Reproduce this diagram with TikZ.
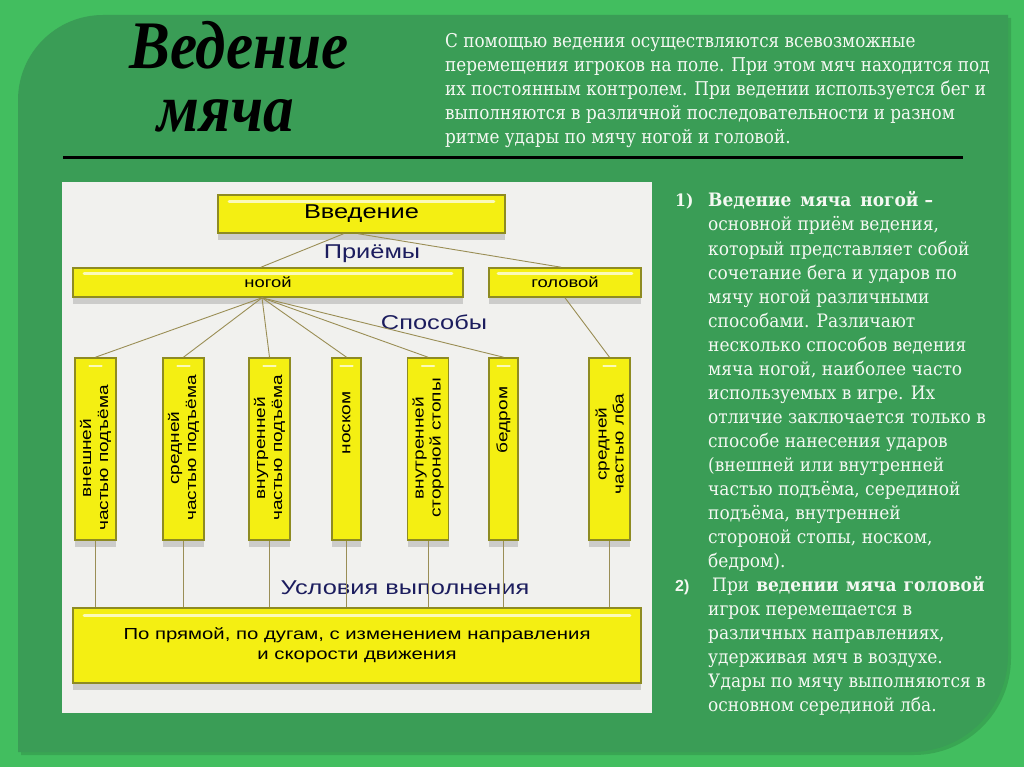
\documentclass[tikz,border=0pt]{standalone}
\usepackage{fontspec}
\setmainfont{Liberation Serif}
\newfontfamily\sansf[FakeStretch=1.27]{Liberation Sans}
\newfontfamily\nsans{Liberation Sans}
\newfontfamily\titlef[FakeStretch=0.9]{Liberation Serif}
\newfontfamily\topf[FakeStretch=0.885]{DejaVu Serif}
\newfontfamily\rfont[FakeStretch=0.92]{DejaVu Serif}
\usetikzlibrary{shadows,calc}
\definecolor{outerg}{HTML}{42BE5F}
\definecolor{panelg}{HTML}{3A9D56}
\definecolor{diagbg}{HTML}{F1F1EE}
\definecolor{boxfill}{HTML}{F4EF12}
\definecolor{boxedge}{HTML}{8E8B22}
\definecolor{linec}{HTML}{9A8E55}
\definecolor{navy}{HTML}{1C1D5E}
\definecolor{ptext}{HTML}{F4F8F2}
\begin{document}
\begin{tikzpicture}[x=1pt,y=-1pt,
  ybox/.style={draw=boxedge, line width=1.6pt, fill=boxfill, inner sep=0pt, font=\sansf, text=black,
    drop shadow={shadow xshift=0pt, shadow yshift=-7pt, opacity=0.22, fill=black!70}},
  conn/.style={draw=linec, line width=0.9pt},
  lbl/.style={font=\sansf\fontsize{20}{22}\selectfont, text=navy},
  vlab/.style={font=\sansf\fontsize{15}{17}\selectfont, align=center, rotate=90},
  hl/.style={draw=white, line width=3pt, line cap=round, opacity=0.7},
  ptxt/.style={anchor=base west, inner sep=0pt, text=ptext, font=\rfont\fontsize{18.5}{24}\selectfont},
  ttxt/.style={anchor=base west, inner sep=0pt, text=ptext, font=\topf\fontsize{19}{24}\selectfont},
  title/.style={font=\titlef\bfseries\itshape\fontsize{68}{68}\selectfont, anchor=base, inner sep=0pt, text=black},
]
\useasboundingbox (0,0) rectangle (1024,767);
% backgrounds
\fill[outerg] (0,0) rectangle (1024,767);
\fill[black, opacity=0.12] (21,103) arc[start angle=180, end angle=270, x radius=85pt, y radius=-85pt] -- (1011,18) -- (1011,658)
  arc[start angle=0, end angle=90, x radius=97pt, y radius=-97pt] -- (21,755) -- cycle;
\fill[panelg] (18,100) arc[start angle=180, end angle=270, x radius=85pt, y radius=-85pt] -- (1008,15) -- (1008,655)
  arc[start angle=0, end angle=90, x radius=97pt, y radius=-97pt] -- (18,752) -- cycle;
% title
\node[title] (t1) at (239,69) {Ведение};
\node[title] (t2) at (226,132) {мяча};
% top paragraph
\foreach \t [count=\i] in {{С помощью ведения осуществляются всевозможные},
  {перемещения игроков на поле. При этом мяч находится под},
  {их постоянным контролем. При ведении используется бег и},
  {выполняются в различной последовательности и разном},
  {ритме удары по мячу ногой и головой.}}
  \node[ttxt] (tp\i) at (445,{48+24*(\i-1)}) {\t};
% rule
\draw[black, line width=3pt] (63,158) -- (963,158);
% diagram background
\fill[diagbg] (62,182) rectangle (652,713);
% boxes
\node[ybox, minimum width=287pt, minimum height=38pt, font=\sansf\fontsize{20}{22}\selectfont] (vv) at (361.5,214) {Введение};
\node[ybox, minimum width=390pt, minimum height=29pt, font=\sansf\fontsize{14.5}{16}\selectfont] (nog) at (268,282.5) {ногой};
\node[ybox, minimum width=152pt, minimum height=29pt, font=\sansf\fontsize{14.5}{16}\selectfont] (gol) at (565,282.5) {головой};
\node[ybox, minimum width=41pt, minimum height=182pt] (v1) at (95.5,449) {};
\node[ybox, minimum width=41pt, minimum height=182pt] (v2) at (183.5,449) {};
\node[ybox, minimum width=41pt, minimum height=182pt] (v3) at (269.5,449) {};
\node[ybox, minimum width=29pt, minimum height=182pt] (v4) at (346.5,449) {};
\node[ybox, minimum width=41pt, minimum height=182pt] (v5) at (428,449) {};
\node[ybox, minimum width=29pt, minimum height=182pt] (v6) at (503.5,449) {};
\node[ybox, minimum width=41pt, minimum height=182pt] (v7) at (609.5,449) {};
\node[vlab] (l1) at (95.5,458) {внешней\\частью подъёма};
\node[vlab] (l2) at (183.5,448) {средней\\частью подъёма};
\node[vlab] (l3) at (269.5,448) {внутренней\\частью подъёма};
\node[vlab] (l4) at (346.5,423) {носком};
\node[vlab] (l5) at (428,448) {внутренней\\стороной стопы};
\node[vlab] (l6) at (503.5,420) {бедром};
\node[vlab] (l7) at (609.5,444) {средней\\частью лба};
\node[ybox, minimum width=568pt, minimum height=75pt, align=center, font=\sansf\fontsize{16}{20}\selectfont] (big) at (357,645.5) {По прямой, по дугам, с изменением направления\\и скорости движения};
% highlights
\draw[hl] ($(vv.north west)+(12,7)$) -- ($(vv.north east)+(-12,7)$);
\draw[hl] ($(nog.north west)+(12,6)$) -- ($(nog.north east)+(-12,6)$);
\draw[hl] ($(gol.north west)+(10,6)$) -- ($(gol.north east)+(-10,6)$);
\draw[hl] ($(big.north west)+(12,8)$) -- ($(big.north east)+(-12,8)$);
\foreach \n in {v1,v2,v3,v4,v5,v6,v7}
  \draw[hl, line width=2.5pt] ($(\n.north)+(-6,9)$) -- ($(\n.north)+(6,9)$);
% labels
\node[lbl] (lp) at (372,254) {Приёмы};
\node[lbl] (ls) at (434,322) {Способы};
\node[lbl] (lu) at (405,588) {Условия выполнения};
% connectors
\draw[conn] ($(vv.south)+(-18,0)$) -- ($(nog.north)+(-7,0)$);
\draw[conn] ($(vv.south)+(-3,0)$) -- ($(gol.north)+(-4,0)$);
\coordinate (nogc) at ($(nog.south)+(-6,0)$);
\foreach \n in {v1,v2,v3,v4,v5,v6}
  \draw[conn] (nogc) -- (\n.north);
\draw[conn] (gol.south) -- (v7.north);
\foreach \n in {v1,v2,v3,v4,v5,v6,v7}
  \draw[conn] (\n.south) -- (\n.south |- big.north);
% right text
\node[anchor=base west, inner sep=0pt, text=ptext, font=\rfont\bfseries\fontsize{17}{20}\selectfont] (n1) at (675,207) {1)};
\node[anchor=base west, inner sep=0pt, text=ptext, font=\nsans\bfseries\fontsize{16}{20}\selectfont] (n2) at (675,591) {2)};
\foreach \t [count=\i] in {{\bfseries Ведение\hspace{9pt}мяча\hspace{9pt}ногой –},
  {основной приём ведения,},
  {который представляет собой},
  {сочетание бега и ударов по},
  {мячу ногой различными},
  {способами. Различают},
  {несколько способов ведения},
  {мяча ногой, наиболее часто},
  {используемых в игре. Их},
  {отличие заключается только в},
  {способе нанесения ударов},
  {(внешней или внутренней},
  {частью подъёма, серединой},
  {подъёма, внутренней},
  {стороной стопы, носком,},
  {бедром).},
  {\hspace{4pt}При\hspace{7pt}{\bfseries ведении\hspace{7pt}мяча\hspace{7pt}головой}},
  {игрок перемещается в},
  {различных направлениях,},
  {удерживая мяч в воздухе.},
  {Удары по мячу выполняются в},
  {основном серединой лба.}}
  \node[ptxt] (r\i) at (708,{207+24*(\i-1)}) {\t};
\end{tikzpicture}
\end{document}
